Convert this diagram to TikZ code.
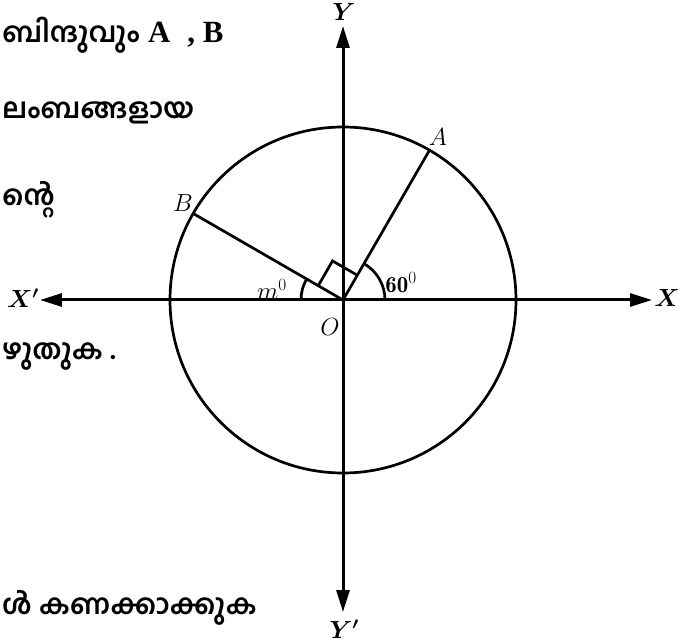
\documentclass[tikz,border=0pt]{standalone}
\usepackage{fontspec}
\newfontfamily\malfont[Script=Malayalam]{Hind Kochi}
\newfontfamily\serifbold{Liberation Serif}
\usetikzlibrary{arrows.meta,positioning,calc}

\begin{document}
\begin{tikzpicture}[
  x=1bp, y=1bp,
  axis/.style={line width=3bp, {Triangle[length=22bp,width=13bp]}-{Triangle[length=22bp,width=13bp]}},
  curve/.style={line width=2.7bp},
  lbl/.style={inner sep=1bp, font=\fontsize{23}{27}\selectfont},
  axlbl/.style={lbl, font=\fontsize{25}{29}\selectfont\boldmath},
  mal/.style={anchor=west, inner sep=0pt, font=\fontsize{28}{33}\selectfont\malfont\bfseries},
  latin/.style={inner sep=0pt, font=\fontsize{31}{36}\selectfont\serifbold\bfseries}
]
\useasboundingbox (-343,-343) rectangle (345,300);

% origin and axes
\coordinate (O) at (0,0);
\coordinate (xneg) at (-303,0);
\coordinate (xpos) at (309,0);
\coordinate (yneg) at (0,-312);
\coordinate (ypos) at (0,274);
\draw[axis] (xneg) -- (xpos);
\draw[axis] (yneg) -- (ypos);

\node[axlbl] (X) at (324,2) {$X$};
\node[axlbl] (Xp) at (-320,2) {$X'$};
\node[axlbl] (Y) at (1,288) {$Y$};
\node[axlbl] (Yp) at (1,-329) {$Y'$};
\node[lbl] (Olbl) at (-13,-27) {$O$};

% circle and radii
\draw[curve] (O) circle[radius=173];
\coordinate (A) at (60:173);
\coordinate (B) at (150:173);
\draw[curve] (O) -- (A);
\draw[curve] (O) -- (B);
\node[lbl] (Albl) at (95,163) {$A$};
\node[lbl] (Blbl) at (-160,97) {$B$};

% angles
\draw[curve] (42,0) arc[start angle=0, end angle=60, radius=42];
\draw[curve] (-42,0) arc[start angle=180, end angle=150, radius=42];
\draw[curve] (60:28.6) -- ++(150:28.6) -- (150:28.6);
\node[lbl] (sixty) at (58,17) {$\mathbf{60}^0$};
\node[lbl] (mdeg) at (-71,11) {$m^0$};

% question text
\node[mal] (q1) at (-341,265) {ബിന്ദുവും};
\node[latin, anchor=base west] (q1ab) at ($(q1.base east)+(8,0)$) {A\hspace{17bp}, B};
\node[mal] (q2) at (-341,187) {ലംബങ്ങളായ};
\node[mal] (q3) at (-341,100) {ന്റെ};
\node[mal] (q4) at (-341,-57) {ഴുതുക .};
\node[mal] (q5) at (-341,-308) {ൾ കണക്കാക്കുക};

\end{tikzpicture}
\end{document}
